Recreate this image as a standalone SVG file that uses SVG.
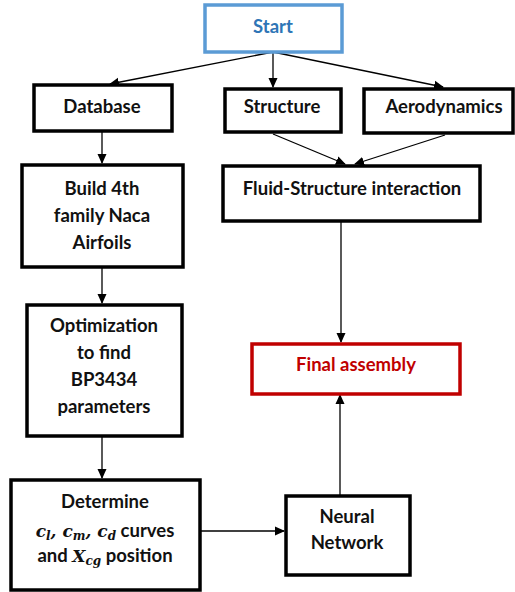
<svg xmlns="http://www.w3.org/2000/svg" width="515" height="592" viewBox="0 0 515 592">
<defs>
<marker id="ah" markerWidth="10" markerHeight="10" refX="9" refY="5" orient="auto" markerUnits="userSpaceOnUse">
<path d="M0,0.5 L10,5 L0,9.5 Z" fill="#000"/>
</marker>
<style>
.box{fill:#fff;stroke:#000;stroke-width:3.5}
.t{font-family:Lato,"Open Sans","Liberation Sans",sans-serif;font-weight:bold;font-size:18.5px;text-anchor:middle;fill:#111}
.m{font-family:"DejaVu Serif","Liberation Serif",serif;font-style:italic;font-weight:bold;font-size:17px}
.s{font-size:12px}
.c{fill:none;stroke:#000;stroke-width:1.3;marker-end:url(#ah)}
</style>
</defs>
<rect width="515" height="592" fill="#fff"/>
<g id="connectors">
<line class="c" x1="273" y1="52" x2="110" y2="84"/>
<line class="c" x1="273" y1="52" x2="273" y2="87"/>
<line class="c" x1="273" y1="52" x2="443" y2="87"/>
<line class="c" x1="273" y1="134" x2="345" y2="164"/>
<line class="c" x1="445" y1="135" x2="355" y2="164"/>
<line class="c" x1="102" y1="131" x2="102" y2="163"/>
<line class="c" x1="102" y1="267" x2="102" y2="303"/>
<line class="c" x1="341" y1="221" x2="341" y2="342"/>
<line class="c" x1="102" y1="436" x2="102" y2="478"/>
<line class="c" x1="200" y1="531" x2="284" y2="531"/>
<line class="c" x1="340" y1="495" x2="340" y2="395"/>
</g>
<g id="start">
<rect x="205" y="5" width="137" height="47" fill="#fff" stroke="#5b9bd5" stroke-width="3.5"/>
<text class="t" x="273" y="33" style="fill:#2e75b6">Start</text>
</g>
<g id="database">
<rect class="box" x="34" y="85" width="138" height="46"/>
<text class="t" x="102" y="113">Database</text>
</g>
<g id="structure">
<rect class="box" x="225" y="89" width="116" height="43"/>
<text class="t" x="282" y="113">Structure</text>
</g>
<g id="aerodynamics">
<rect class="box" x="364" y="89" width="149" height="44"/>
<text class="t" x="444" y="113">Aerodynamics</text>
</g>
<g id="fsi">
<rect class="box" x="223" y="166" width="257" height="55"/>
<text class="t" x="352" y="195">Fluid-Structure interaction</text>
</g>
<g id="build">
<rect class="box" x="22" y="165" width="161" height="102"/>
<text class="t" x="102" y="195">Build 4th</text>
<text class="t" x="102" y="222">family Naca</text>
<text class="t" x="102" y="249">Airfoils</text>
</g>
<g id="optimization">
<rect class="box" x="27" y="305" width="155" height="131"/>
<text class="t" x="104" y="332">Optimization</text>
<text class="t" x="104" y="359">to find</text>
<text class="t" x="104" y="386">BP3434</text>
<text class="t" x="104" y="413">parameters</text>
</g>
<g id="final">
<rect x="252" y="344" width="208" height="50" fill="#fff" stroke="#c00000" stroke-width="3.5"/>
<text class="t" x="356" y="371" style="fill:#c00000">Final assembly</text>
</g>
<g id="determine">
<rect class="box" x="11" y="480" width="189" height="110"/>
<text class="t" x="105" y="508">Determine</text>
<text class="t" x="105" y="537"><tspan class="m">c</tspan><tspan class="m s" dy="3">l</tspan><tspan class="m" dy="-3">, c</tspan><tspan class="m s" dy="3">m</tspan><tspan class="m" dy="-3">, c</tspan><tspan class="m s" dy="3">d</tspan><tspan dy="-3"> curves</tspan></text>
<text class="t" x="105" y="562">and <tspan class="m">X</tspan><tspan class="m s" dy="3">cg</tspan><tspan dy="-3"> position</tspan></text>
</g>
<g id="neural">
<rect class="box" x="286" y="496" width="124" height="79"/>
<text class="t" x="347" y="523">Neural</text>
<text class="t" x="347" y="549">Network</text>
</g>
</svg>
